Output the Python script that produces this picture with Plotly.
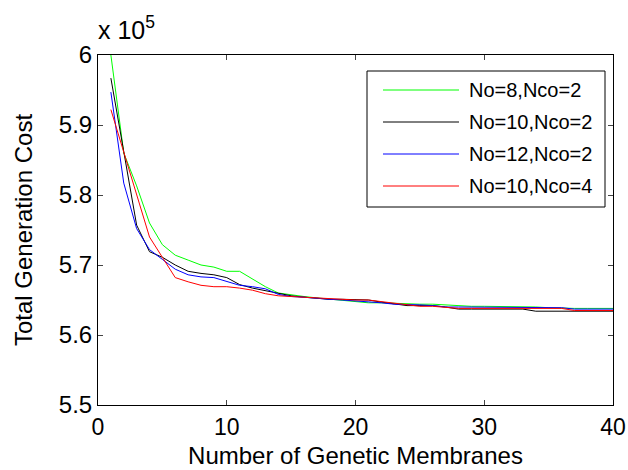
import plotly.graph_objects as go

generations = list(range(1, 41))

series_names = ["No=8,Nco=2", "No=10,Nco=2", "No=12,Nco=2", "No=10,Nco=4"]
series_colors = ["#00ff00", "#000000", "#0000ff", "#ff0000"]

cost_no8_nco2 = [6.000, 5.860, 5.813, 5.760, 5.729, 5.714, 5.707, 5.700, 5.697, 5.691,
                 5.691, 5.680, 5.669, 5.660, 5.657, 5.655, 5.653, 5.651, 5.649, 5.647,
                 5.646, 5.646, 5.645, 5.644, 5.644, 5.644, 5.643, 5.641, 5.641, 5.641,
                 5.641, 5.641, 5.641, 5.640, 5.639, 5.638, 5.638, 5.638, 5.638, 5.638]
cost_no10_nco2 = [5.967, 5.862, 5.757, 5.719, 5.711, 5.700, 5.691, 5.688, 5.686, 5.682,
                  5.672, 5.667, 5.663, 5.659, 5.656, 5.654, 5.652, 5.651, 5.651, 5.651,
                  5.650, 5.647, 5.644, 5.642, 5.642, 5.642, 5.640, 5.637, 5.637, 5.637,
                  5.637, 5.637, 5.637, 5.634, 5.634, 5.634, 5.634, 5.634, 5.634, 5.634]
cost_no12_nco2 = [5.947, 5.817, 5.752, 5.722, 5.708, 5.694, 5.686, 5.683, 5.682, 5.677,
                  5.671, 5.669, 5.666, 5.658, 5.655, 5.654, 5.652, 5.651, 5.650, 5.649,
                  5.648, 5.646, 5.644, 5.644, 5.643, 5.642, 5.640, 5.640, 5.640, 5.640,
                  5.640, 5.640, 5.639, 5.639, 5.639, 5.639, 5.637, 5.637, 5.637, 5.637]
cost_no10_nco4 = [5.922, 5.861, 5.800, 5.740, 5.711, 5.682, 5.676, 5.671, 5.669, 5.669,
                  5.667, 5.664, 5.659, 5.656, 5.655, 5.654, 5.653, 5.651, 5.650, 5.650,
                  5.650, 5.648, 5.645, 5.643, 5.641, 5.641, 5.639, 5.638, 5.638, 5.638,
                  5.638, 5.638, 5.638, 5.638, 5.638, 5.638, 5.635, 5.635, 5.635, 5.635]

all_series = [cost_no8_nco2, cost_no10_nco2, cost_no12_nco2, cost_no10_nco4]

x_ticks = [0, 10, 20, 30, 40]
y_ticks = [5.5, 5.6, 5.7, 5.8, 5.9, 6.0]
y_tick_labels = ["5.5", "5.6", "5.7", "5.8", "5.9", "6"]

FONT = "Liberation Sans, Arial, Helvetica, sans-serif"

fig = go.Figure()
for name, color, vals in zip(series_names, series_colors, all_series):
    fig.add_trace(go.Scatter(x=generations, y=vals, mode="lines", name=name,
                             line=dict(color=color, width=1), showlegend=False))

# manual MATLAB-style legend (paper coordinates relative to plot area)
L, R, T, B = 98, 15, 55, 65
W, H = 628, 470
pw, ph = W - L - R, H - T - B
def px(xp):
    return (xp - L) / pw
def py(yp):
    return (H - B - yp) / ph

shapes = [dict(type="rect", xref="paper", yref="paper", x0=px(367), x1=px(605),
               y0=py(207), y1=py(71), line=dict(color="black", width=1),
               fillcolor="white", layer="above")]
annotations = []
rows = [90, 122, 154, 186]
for name, color, r in zip(series_names, series_colors, rows):
    shapes.append(dict(type="line", xref="paper", yref="paper", x0=px(383), x1=px(459),
                       y0=py(r), y1=py(r), line=dict(color=color, width=1), layer="above"))
    annotations.append(dict(text=name, xref="paper", yref="paper", x=px(467), y=py(r),
                            xanchor="left", yanchor="middle", showarrow=False,
                            font=dict(size=20, color="black", family=FONT)))

annotations.append(dict(text="x 10<sup>5</sup>", xref="paper", yref="paper",
                        x=px(96), y=py(46), xanchor="left", yanchor="bottom",
                        showarrow=False, font=dict(size=25, color="black", family=FONT)))

fig.update_layout(
    width=W, height=H,
    margin=dict(l=L, r=R, t=T, b=B, pad=0),
    paper_bgcolor="white", plot_bgcolor="white",
    font=dict(family=FONT, size=24, color="black"),
    shapes=shapes, annotations=annotations,
    xaxis=dict(range=[0, 40], tickvals=x_ticks, ticks="inside", ticklen=5,
               showline=True, linecolor="black", linewidth=1, mirror="ticks",
               showgrid=False, zeroline=False, tickfont=dict(size=23),
               ticklabelstandoff=1, automargin=False,
               title=dict(text="Number of Genetic Membranes", font=dict(size=24), standoff=8)),
    yaxis=dict(range=[5.5, 6.0], tickvals=y_ticks, ticktext=y_tick_labels, ticks="inside",
               ticklen=5, showline=True, linecolor="black", linewidth=1, mirror="ticks",
               showgrid=False, zeroline=False, tickfont=dict(size=24), automargin=False,
               title=dict(text="Total Generation Cost", font=dict(size=24), standoff=19)),
)

fig.write_html("out.html")
